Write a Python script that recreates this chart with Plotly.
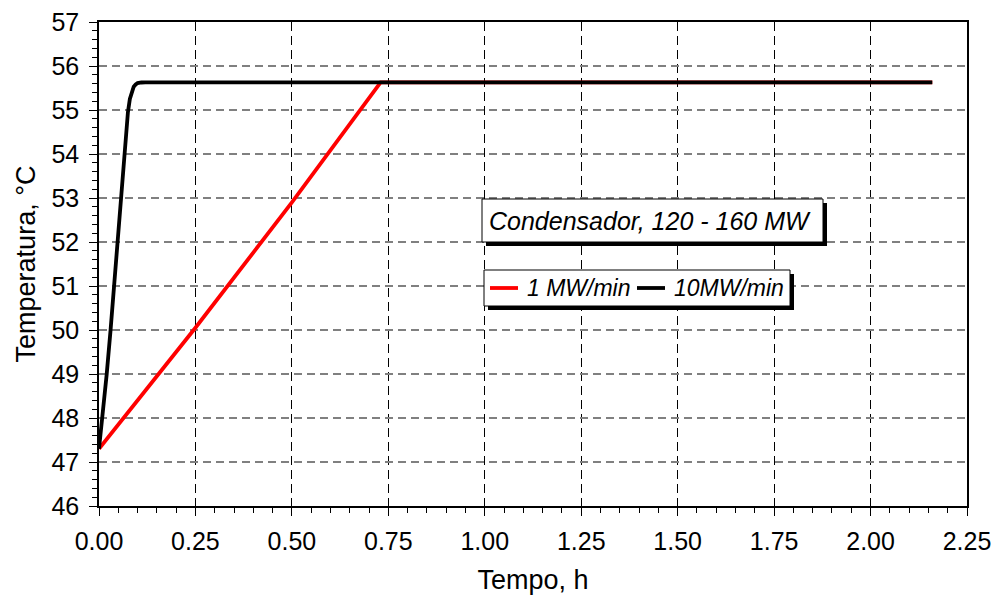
import plotly.graph_objects as go

# Data
t_1mw = [0.0, 0.05, 0.10, 0.25, 0.50, 0.73, 1.00, 1.50, 2.00, 2.16]
T_1mw = [47.3, 47.85, 48.4, 50.05, 52.9, 55.63, 55.63, 55.63, 55.63, 55.63]

t_10mw = [0.0, 0.01, 0.02, 0.03, 0.04, 0.05, 0.06, 0.07, 0.075, 0.08, 0.085, 0.09, 0.095, 0.10, 0.11, 0.12, 0.5, 1.0, 2.16]
T_10mw = [47.3, 48.1, 49.0, 50.0, 51.1, 52.2, 53.4, 54.5, 54.95, 55.25, 55.43, 55.53, 55.58, 55.61, 55.625, 55.63, 55.63, 55.63, 55.63]

x_ticks = [0, 0.25, 0.5, 0.75, 1.0, 1.25, 1.5, 1.75, 2.0, 2.25]
x_labels = ["0.00", "0.25", "0.50", "0.75", "1.00", "1.25", "1.50", "1.75", "2.00", "2.25"]

series_names = ["1 MW/min", "10MW/min"]
series_colors = ["#ff0000", "#000000"]

FONT = "Liberation Sans, Arial, sans-serif"

fig = go.Figure()
fig.add_trace(go.Scatter(x=t_1mw, y=T_1mw, mode="lines", name=series_names[0],
                         line=dict(color=series_colors[0], width=3.8), showlegend=False))
fig.add_trace(go.Scatter(x=t_10mw, y=T_10mw, mode="lines", name=series_names[1],
                         line=dict(color=series_colors[1], width=3.8),
                         showlegend=False))

L, R, T, B = 99, 28, 22, 95
W, H = 995, 601
pw, ph = W - L - R, H - T - B

def px_x(p):
    return (p - L) / pw

def px_y(p):
    return (H - B - p) / ph

def box(x0, y0, x1, y1, off=4):
    fig.add_shape(type="rect", xref="paper", yref="paper",
                  x0=px_x(x0 + off), x1=px_x(x1 + off), y0=px_y(y1 + off), y1=px_y(y0 + off),
                  fillcolor="black", line=dict(width=0), layer="above")
    fig.add_shape(type="rect", xref="paper", yref="paper",
                  x0=px_x(x0), x1=px_x(x1), y0=px_y(y1), y1=px_y(y0),
                  fillcolor="white", line=dict(color="black", width=1), layer="above")

# annotation box
box(482, 199, 823, 242)
fig.add_annotation(text="<i>Condensador, 120 - 160 MW</i>", xref="paper", yref="paper",
                   x=px_x(487), y=px_y(221), xanchor="left", yanchor="middle", showarrow=False,
                   font=dict(family=FONT, size=25, color="black"))

# legend box (manual)
box(484, 270, 790, 306)
seg_x = [(490, 518), (637, 665)]
txt_x = [525, 672]
for (a, b), tx, name, col in zip(seg_x, txt_x, series_names, series_colors):
    fig.add_shape(type="line", xref="paper", yref="paper",
                  x0=px_x(a), x1=px_x(b), y0=px_y(288), y1=px_y(288),
                  line=dict(color=col, width=3.8), layer="above")
    fig.add_annotation(text="<i>" + name + "</i>", xref="paper", yref="paper",
                       x=px_x(tx), y=px_y(288), xanchor="left", yanchor="middle", showarrow=False,
                       font=dict(family=FONT, size=23, color="black"))

fig.update_layout(
    width=W, height=H,
    margin=dict(l=L, r=R, t=T, b=B, autoexpand=False),
    paper_bgcolor="white", plot_bgcolor="white",
    font=dict(family=FONT, size=25, color="black"),
    showlegend=False,
)

fig.update_xaxes(
    range=[0, 2.25], tickvals=x_ticks, ticktext=x_labels,
    showline=True, linecolor="black", linewidth=1.5, mirror=True,
    ticks="outside", ticklen=8, tickcolor="black", tickwidth=1,
    minor=dict(dtick=0.05, tick0=0, ticks="outside", ticklen=5, tickcolor="black", showgrid=False),
    showgrid=True, gridcolor="black", griddash="9px,5px", gridwidth=1,
    zeroline=False, ticklabelstandoff=4, automargin=False,
    title=dict(text="Tempo, h", font=dict(size=27), standoff=16),
    tickfont=dict(size=25),
)
fig.update_yaxes(
    range=[46, 57], dtick=1, tick0=46,
    showline=True, linecolor="black", linewidth=1.5, mirror=True,
    ticks="outside", ticklen=8, tickcolor="black", tickwidth=1,
    minor=dict(dtick=0.2, tick0=46, ticks="outside", ticklen=5, tickcolor="black", showgrid=False),
    showgrid=True, gridcolor="#808080", griddash="8px,5px", gridwidth=1.5,
    zeroline=False, ticklabelstandoff=5, automargin=False,
    title=dict(text="Temperatura, °C", font=dict(size=27), standoff=8),
    tickfont=dict(size=25),
)

fig.write_html("out.html")
